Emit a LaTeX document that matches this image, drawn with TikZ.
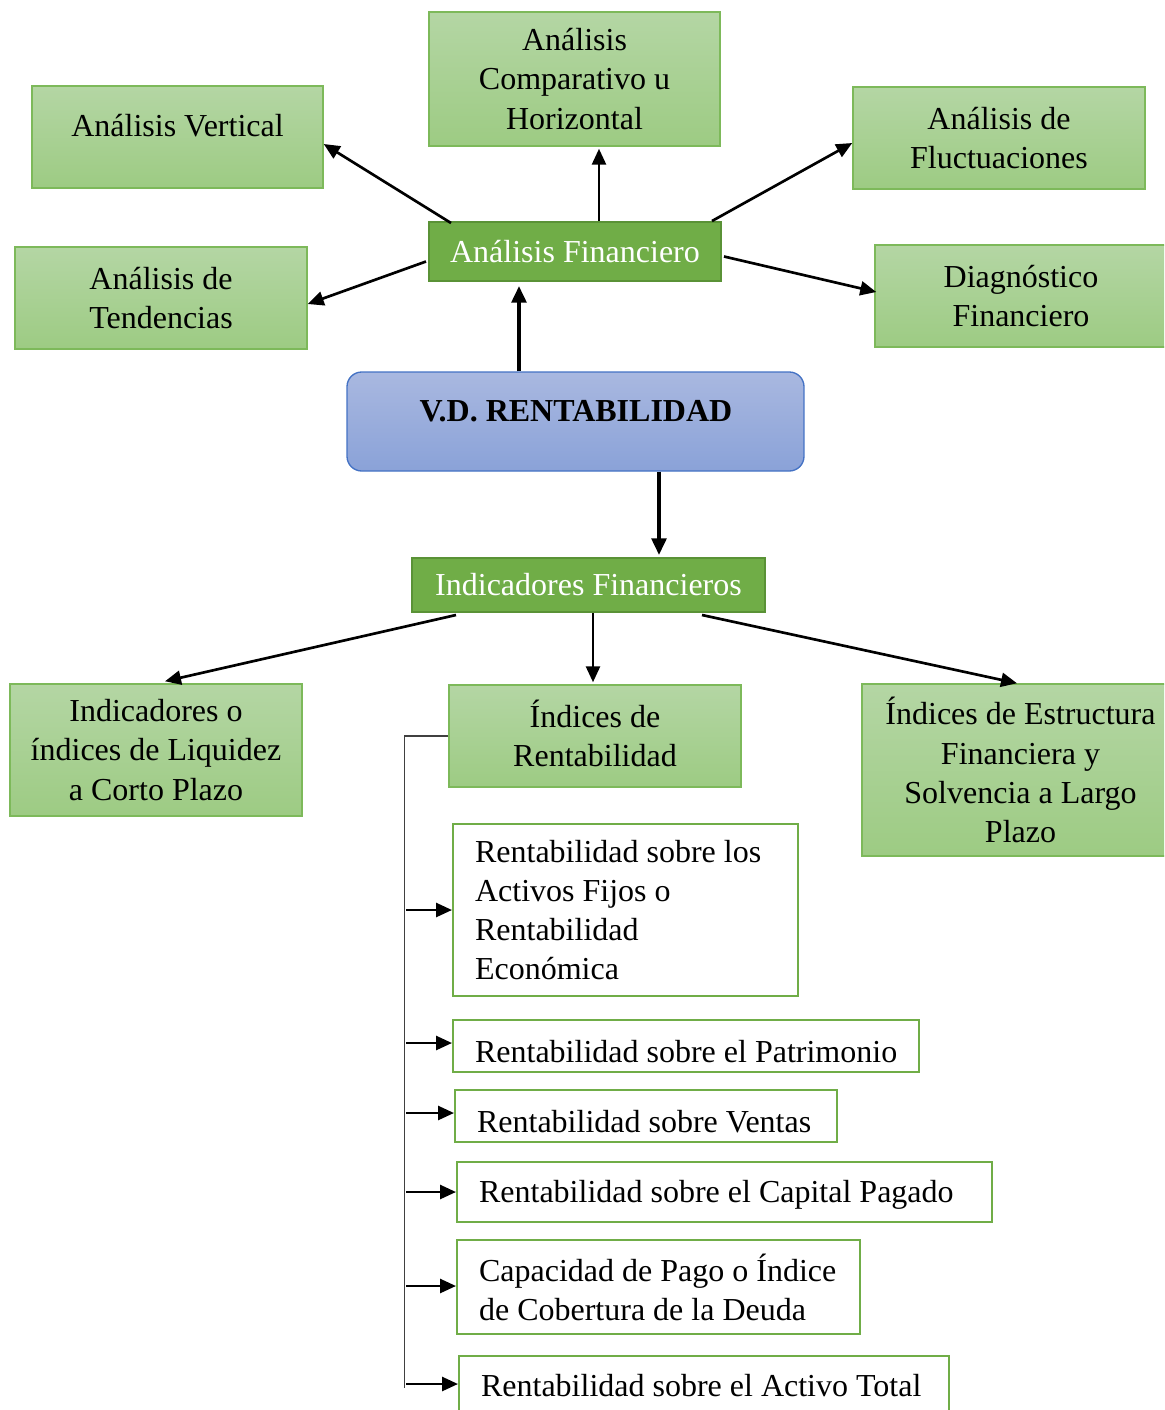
\documentclass[tikz,border=0pt]{standalone}
\usepackage{fontspec}
\setmainfont{Liberation Serif}
\usetikzlibrary{arrows.meta,calc}
\newcommand{\wsreset}{\spaceskip=0pt\xspaceskip=0pt\relax}
\definecolor{gtop}{HTML}{B4D6A4}
\definecolor{gbot}{HTML}{9DCB83}
\definecolor{gborder}{HTML}{7DB95A}
\definecolor{dgreen}{HTML}{70AD47}
\definecolor{dborder}{HTML}{5A9236}
\definecolor{wborder}{HTML}{70AD47}
\definecolor{vdtop}{HTML}{A9B8E0}
\definecolor{vdbot}{HTML}{8AA2D8}
\definecolor{vdborder}{HTML}{4472C4}
\definecolor{treecol}{HTML}{404040}
\begin{document}
\begin{tikzpicture}[x=0.75pt,y=-0.75pt,
  every node/.style={font=\fontsize{24}{29.3}\selectfont, inner sep=0pt},
  gbox/.style={draw=gborder, line width=1.1pt, top color=gtop, bottom color=gbot, align=center},
  dbox/.style={draw=dborder, line width=1.5pt, fill=dgreen, text=white, align=center},
  wbox/.style={draw=wborder, line width=1.6pt, fill=white, align=left, inner xsep=16.5pt, anchor=west},
  vdbox/.style={draw=vdborder, line width=1pt, top color=vdtop, bottom color=vdbot, rounded corners=11pt},
  arr/.style={-{Triangle[length=12pt,width=10.5pt]}, line width=2pt},
  thickarr/.style={-{Triangle[length=12.5pt,width=11pt]}, line width=2.8pt},
  tree/.style={draw=treecol, line width=1pt}
]
\useasboundingbox (0,0) rectangle (1164,1410);
\clip (0,0) rectangle (1164,1410);

% top level boxes
\node[gbox, minimum width=218.25pt, minimum height=76.5pt] (vert) at (177.5,137) {};
\node (vertt) at (177.5,126) {Análisis Vertical};
\node[gbox, minimum width=218.25pt, minimum height=100.5pt] (comp) at (574.5,79) {\wsreset Análisis\\Comparativo u\\Horizontal};
\node[gbox, minimum width=219pt, minimum height=76.5pt] (fluc) at (999,138) {\wsreset Análisis de\\Fluctuaciones};
\node[dbox, minimum width=219pt, minimum height=44.25pt] (af) at (575,251.5) {\wsreset Análisis Financiero};
\node[gbox, minimum width=219pt, minimum height=76.5pt] (tend) at (161,298) {\wsreset Análisis de\\Tendencias};
\node[gbox, minimum width=219pt, minimum height=76.5pt] (diag) at (1021,296) {\wsreset Diagnóstico\\Financiero};

% central
\node[vdbox, minimum width=342.75pt, minimum height=74.25pt] (vd) at (575.5,421.5) {};
\node (vdt) at (576,411) {\textbf{V.D. RENTABILIDAD}};

\node[dbox, minimum width=264.75pt, minimum height=40.5pt] (ind) at (588.5,585) {\wsreset Indicadores Financieros};

% second level
\node[gbox, minimum width=219pt, minimum height=99pt] (liq) at (156,750) {\wsreset Indicadores o\\índices de Liquidez\\a Corto Plazo};
\node[gbox, minimum width=219pt, minimum height=76.5pt] (ir) at (595,736) {\wsreset\smash{Í}ndices de\\Rentabilidad};
\node[gbox, minimum width=237.75pt, minimum height=129pt] (est) at (1020.5,770) {\wsreset Índices de Estructura\\Financiera y\\Solvencia a Largo\\Plazo};

% list boxes
\node[wbox, text width=225.75pt, minimum height=129pt] (r1) at (452,910) {\wsreset Rentabilidad sobre los\\Activos Fijos o\\Rentabilidad\\Económica};
\node[wbox, text width=316.5pt, minimum height=39pt, text height=24pt, text depth=0pt] (r2) at (452,1046) {\wsreset\mbox{Rentabilidad sobre el Patrimonio}};
\node[wbox, text width=253.5pt, minimum height=39pt, text height=24pt, text depth=0pt] (r3) at (454,1116) {\wsreset\mbox{Rentabilidad sobre Ventas}};
\node[wbox, text width=368.25pt, minimum height=45pt, text height=16.4pt, text depth=0pt] (r4) at (456,1192) {\wsreset\mbox{Rentabilidad sobre el Capital Pagado}};
\node[wbox, text width=269.25pt, minimum height=70.5pt] (r5) at (456,1287) {\wsreset\mbox{Capacidad de Pago o Índice}\\\mbox{de Cobertura de la Deuda}};
\node[wbox, text width=334.5pt, minimum height=45pt] (r6) at (458,1386) {\wsreset\mbox{Rentabilidad sobre el Activo Total}};

% connectors
\draw[arr] ($(af.north west)+(23,2)$) -- ($(vert.east)+(0,7)$);
\draw[arr] ($(af.north)+(24,0)$) -- ($(comp.south)+(24.5,2)$);
\draw[arr] ($(af.north east)+(-10,0)$) -- ($(fluc.west)+(0,5)$);
\draw[arr] ($(af.west)+(-2,10)$) -- ($(tend.east)+(0,6)$);
\draw[arr] ($(af.east)+(2,5)$) -- ($(diag.west)+(2,-4)$);
\draw[thickarr] ($(vd.north)+(-56.5,0)$) -- ($(af.south)+(-56,4)$);
\draw[thickarr] ($(vd.south)+(83.5,0)$) -- ($(ind.north)+(70.5,-2)$);
\draw[arr] ($(ind.south west)+(45,2)$) -- ($(liq.north)+(9,-2)$);
\draw[arr] ($(ind.south)+(4.5,0)$) -- ($(ir.north)+(-2,-2)$);
\draw[arr] ($(ind.south east)+(-64,2)$) -- ($(est.north)+(-3.5,0)$);

% tree
\draw[tree] (ir.west) -- ++(-44,0) coordinate (tt) -- ++(0,652) coordinate (tb);
\foreach \n/\dy in {r1/0,r2/-3,r3/-3,r4/0,r5/-1,r6/-2}
  \draw[arr] ($(tt |- \n.west)+(2,\dy)$) -- ($(\n.west)+(0,\dy)$);
\end{tikzpicture}
\end{document}
